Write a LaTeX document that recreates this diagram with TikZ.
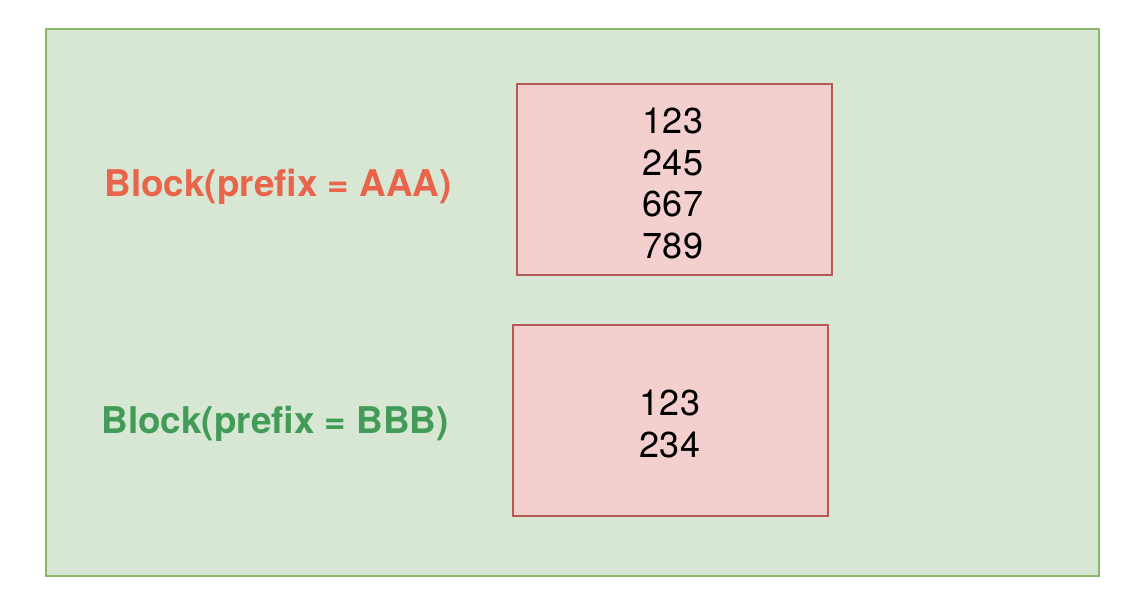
\documentclass[tikz,border=0pt]{standalone}
\usepackage{fontspec}
\setmainfont{TeX Gyre Heros}
\definecolor{outerfill}{RGB}{215,231,212}
\definecolor{outerdraw}{RGB}{140,182,110}
\definecolor{boxfill}{RGB}{243,207,206}
\definecolor{boxdraw}{RGB}{184,88,84}
\definecolor{redtext}{RGB}{232,100,74}
\definecolor{greentext}{RGB}{66,156,88}
\tikzset{
  outer/.style={draw=outerdraw, fill=outerfill, line width=2pt},
  numbox/.style={draw=boxdraw, fill=boxfill, line width=2pt},
  label/.style={font=\fontsize{36.8}{42}\selectfont\bfseries, inner sep=0pt},
  nums/.style={font=\fontsize{36}{41.7}\selectfont, align=center, inner sep=0pt, text=black}
}
\begin{document}
\begin{tikzpicture}[x=1pt,y=-1pt]
\useasboundingbox (0,0) rectangle (1144,616);
\fill[white] (0,0) rectangle (1144,616);
\draw[outer] (46,29) rectangle (1099,576);
\draw[numbox] (517,84) rectangle (832,275);
\draw[numbox] (513,325) rectangle (828,516);
\node[label, text=redtext] (la) at (278,187) {Block(prefix = AAA)};
\node[label, text=greentext] (lb) at (275,424) {Block(prefix = BBB)};
\node[nums] (na) at (673,183.5) {123\\245\\667\\789};
\node[nums] (nb) at (670,424) {123\\234};
\end{tikzpicture}
\end{document}
